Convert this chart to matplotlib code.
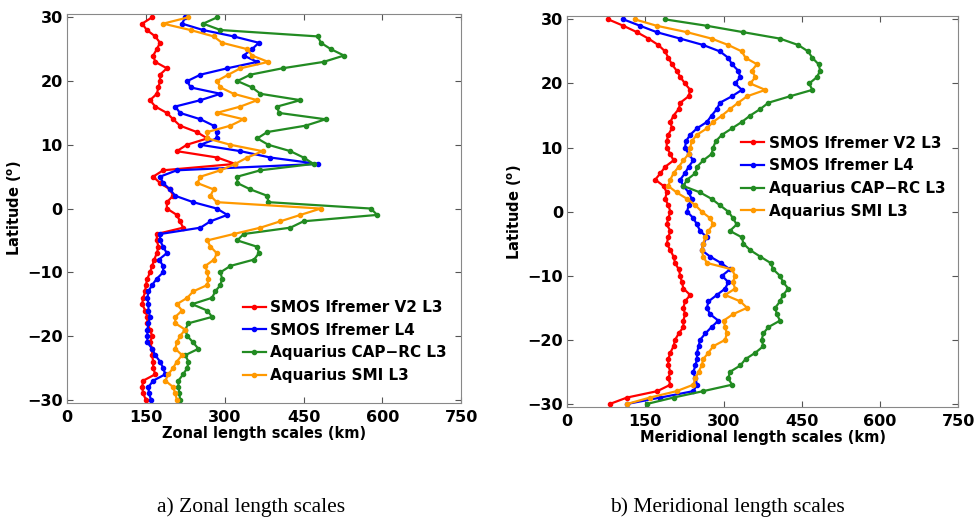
import matplotlib.pyplot as plt
import numpy as np

# latitude grid, 30N down to 30S
lat = list(range(30, -31, -1))

# zonal length scales (km)
zon_smos_l3 = [162, 143, 152, 168, 177, 171, 164, 168, 190, 177, 177, 174, 171, 158, 168, 190, 202, 215, 247, 267,
               228, 209, 286, 320, 183, 164, 177, 196, 202, 190, 190, 209, 215, 221, 171, 171, 174, 171, 166,
               162, 158, 153, 150, 149, 145, 143, 149, 153, 153, 158, 162, 158, 162, 162, 164, 164, 168, 145, 143, 145, 150]
zon_smos_l4 = [225, 219, 259, 317, 365, 352, 336, 362, 305, 254, 229, 235, 292, 254, 206, 215, 254, 279, 285, 285,
               254, 330, 387, 478, 209, 177, 183, 196, 206, 240, 285, 305, 273, 254, 177, 177, 183, 190, 175,
               183, 183, 171, 162, 155, 153, 155, 155, 158, 155, 153, 153, 153, 162, 168, 177, 183, 187, 164, 155, 156, 160]
zon_aq_cap = [286, 259, 292, 477, 483, 502, 527, 488, 410, 349, 324, 352, 368, 444, 400, 403, 492, 454, 381, 362,
              383, 425, 450, 469, 368, 324, 324, 349, 381, 383, 578, 590, 450, 425, 336, 324, 362, 365, 356,
              311, 292, 295, 292, 282, 276, 238, 267, 276, 231, 225, 229, 240, 250, 225, 231, 229, 221, 212, 212, 214, 215]
zon_aq_smi = [231, 183, 235, 279, 295, 343, 352, 383, 330, 307, 285, 292, 317, 362, 330, 285, 336, 311, 267, 267,
              311, 372, 343, 320, 292, 254, 248, 279, 273, 285, 483, 444, 406, 368, 317, 267, 273, 285, 280,
              263, 267, 269, 267, 240, 229, 209, 219, 206, 206, 225, 215, 209, 206, 219, 209, 202, 193, 187, 202, 206, 209]

# meridional length scales (km)
mer_smos_l3 = [79, 108, 134, 156, 175, 188, 194, 201, 210, 217, 226, 236, 233, 217, 214, 204, 198, 201, 194, 191,
               191, 198, 204, 188, 179, 169, 185, 191, 188, 194, 198, 194, 191, 198, 194, 191, 198, 204, 207,
               214, 217, 220, 223, 236, 226, 223, 226, 223, 223, 214, 207, 204, 198, 194, 194, 198, 194, 198, 173, 115, 82]
mer_smos_l4 = [108, 140, 172, 217, 261, 293, 309, 316, 328, 332, 322, 335, 316, 293, 287, 277, 268, 249, 236, 228,
               226, 233, 242, 233, 226, 217, 223, 233, 239, 233, 230, 242, 249, 255, 268, 261, 258, 274, 295,
               312, 297, 309, 303, 287, 271, 268, 274, 290, 277, 265, 255, 252, 249, 249, 246, 242, 246, 249, 242, 179, 115]
mer_aq_cap = [188, 268, 338, 408, 443, 462, 470, 482, 485, 479, 464, 470, 427, 386, 370, 351, 335, 316, 297, 285,
              280, 277, 261, 249, 246, 230, 223, 255, 277, 293, 309, 318, 325, 312, 335, 338, 351, 370, 390,
              395, 408, 414, 424, 414, 408, 399, 402, 408, 386, 376, 373, 376, 361, 342, 332, 312, 309, 316, 261, 204, 153]
mer_aq_smi = [130, 172, 230, 277, 309, 335, 342, 364, 354, 361, 351, 380, 345, 328, 312, 297, 280, 268, 249, 239,
              236, 233, 223, 214, 204, 198, 194, 210, 230, 246, 258, 274, 280, 271, 265, 261, 258, 261, 268,
              316, 322, 318, 322, 303, 332, 345, 318, 300, 303, 306, 303, 280, 271, 261, 258, 252, 246, 242, 210, 159, 115]

names = ['SMOS Ifremer V2 L3', 'SMOS Ifremer L4', 'Aquarius CAP\u2212RC L3', 'Aquarius SMI L3']
colors = ['#ff0000', '#0000ff', '#228b22', '#ff9900']

fig = plt.figure(figsize=(9.76, 5.22), dpi=100)
ax1 = fig.add_axes([0.0686, 0.228, 0.404, 0.745])
ax2 = fig.add_axes([0.581, 0.220, 0.401, 0.749])


def plotpanel(ax, series, xlabel, legpos):
    for s, nome, c in zip(series, names, colors):
        ax.plot(s, lat, color=c, label=nome, marker='o', markersize=3, linewidth=1.6)
    ax.set_xlim(0, 750)
    ax.set_ylim(-30.5, 30.5)
    ax.set_xticks([0, 150, 300, 450, 600, 750])
    ax.set_yticks([-30, -20, -10, 0, 10, 20, 30])
    ax.tick_params(direction='in', top=True, right=True, length=4, color='#555555', labelsize=11.5)
    ax.tick_params(axis='x', pad=5)
    ax.tick_params(axis='y', pad=3)
    for lb in ax.get_xticklabels() + ax.get_yticklabels():
        lb.set_fontweight('bold')
    for sp in ax.spines.values():
        sp.set_color('#888888')
    ax.set_xlabel(xlabel, fontsize=10.5, fontweight='bold', labelpad=1)
    ax.set_ylabel(r'Latitude ($\mathbf{^o}$)', fontsize=10.5, fontweight='bold', labelpad=2)
    ax.legend(loc='upper left', bbox_to_anchor=legpos, frameon=False, handlelength=1.5, handletextpad=0.3,
              labelspacing=0.5, borderaxespad=0, prop={'weight': 'bold', 'size': 11})


plotpanel(ax1, [zon_smos_l3, zon_smos_l4, zon_aq_cap, zon_aq_smi], 'Zonal length scales (km)', (0.43, 0.28))
plotpanel(ax2, [mer_smos_l3, mer_smos_l4, mer_aq_cap, mer_aq_smi], 'Meridional length scales (km)', (0.43, 0.71))

fig.text(0.257, 0.02, 'a) Zonal length scales', ha='center', family='Liberation Serif', fontsize=15.5)
fig.text(0.745, 0.02, 'b) Meridional length scales', ha='center', family='Liberation Serif', fontsize=15.5)

plt.savefig('out.png', dpi=100)
